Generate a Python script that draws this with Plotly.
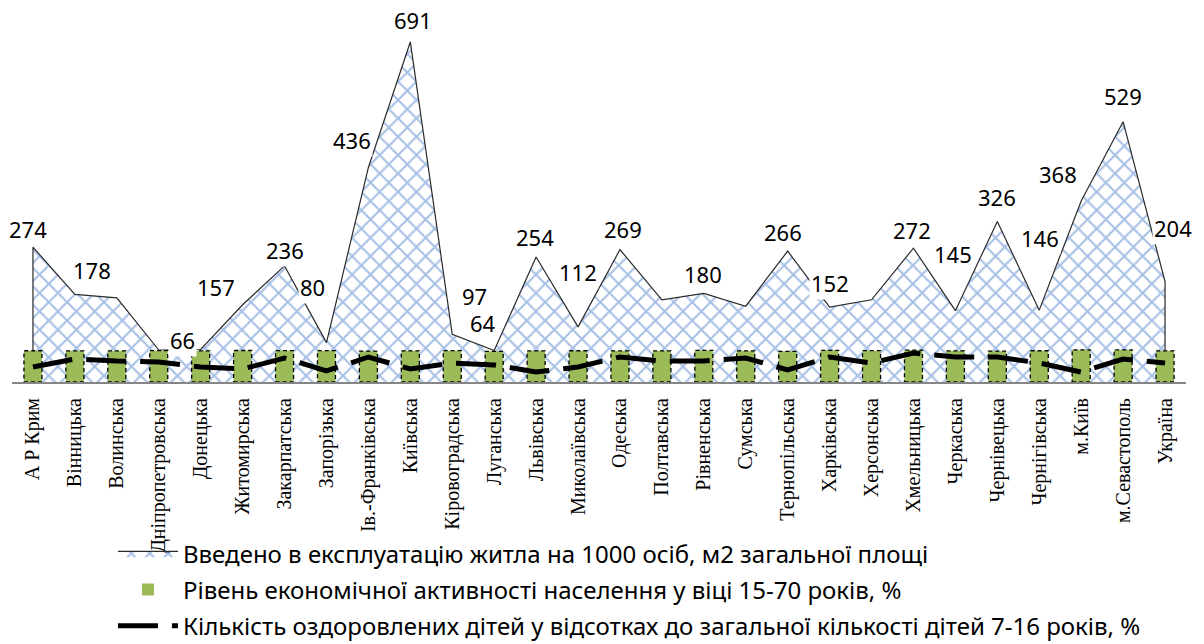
import plotly.graph_objects as go

regions = ["А Р Крим", "Вінницька", "Волинська", "Дніпропетровська", "Донецька",
           "Житомирська", "Закарпатська", "Запорізька", "Ів.-Франківська", "Київська",
           "Кіровоградська", "Луганська", "Львівська", "Миколаївська", "Одеська",
           "Полтавська", "Рівненська", "Сумська", "Тернопільська", "Харківська",
           "Херсонська", "Хмельницька", "Черкаська", "Чернівецька", "Чернігівська",
           "м.Київ", "м.Севастополь", "Україна"]

housing = [274, 178, 171, 65, 66, 157, 236, 80, 436, 691, 97, 64, 254, 112, 269,
           167, 180, 154, 266, 152, 167, 272, 145, 326, 146, 368, 529, 204]

econ_activity = [63.5, 63.4, 63.1, 63.6, 63.2, 64.0, 63.8, 63.6, 62.6, 63.2, 63.6, 62.3,
                 63.1, 63.5, 63.2, 63.3, 64.1, 63.4, 62.3, 64.3, 63.6, 64.8, 63.1, 62.6,
                 63.5, 65.4, 65.2, 63.3]

children = [30.5, 46.7, 42.7, 40.7, 30.5, 26.4, 48.8, 22.4, 50.8, 26.4, 38.6, 34.6,
            20.3, 30.5, 50.8, 42.7, 42.7, 48.8, 24.4, 50.8, 38.6, 58.9, 50.8, 50.8,
            38.6, 20.3, 46.7, 38.6]

# which housing values carry a data label, and label offsets in px (styling)
label_offsets = {0: (-5, 18), 1: (17, 24), 4: (-18, 10), 5: (-27, 18), 6: (0, 16),
                 7: (-14, 56), 8: (-16, 27), 9: (3, 22), 10: (22, 38), 11: (-11, 28),
                 12: (-1, 20), 13: (0, 55), 14: (3, 21), 16: (-1, 19), 18: (-5, 19),
                 19: (0, 24), 21: (-1, 18), 22: (-2, 57), 23: (0, 25), 24: (1, 72),
                 25: (-23, 27), 26: (0, 26), 27: (8, 54)}

names = ["Введено в експлуатацію житла на 1000 осіб, м2 загальної площі",
         "Рівень економічної активності населення у віці 15-70 років, %",
         "Кількість оздоровлених дітей у відсотках до загальної кількості дітей 7-16 років, %"]

idx = list(range(len(regions)))
n = len(regions)
YMAX = 760
BAR_W = 0.43

fig = go.Figure()

# area (closed down to the baseline at both ends so the side edges are outlined)
fig.add_trace(go.Scatter(
    x=[idx[0]] + idx + [idx[-1]], y=[0] + housing + [0],
    mode="lines", fill="toself", name=names[0],
    line=dict(color="#2a2a2a", width=1.2),
    fillcolor="rgba(255,255,255,0)",
    fillpattern=dict(shape="x", fgcolor="#4f82cc", bgcolor="rgba(255,255,255,0)",
                     size=13, solidity=0.3),
    xaxis="x", yaxis="y", legendgroup="a", hoverinfo="skip"))

fig.add_trace(go.Bar(
    x=idx, y=econ_activity, width=BAR_W, name=names[1],
    marker=dict(color="#9bbb59", line=dict(width=0)),
    xaxis="x2", yaxis="y2", legendgroup="b"))

fig.add_trace(go.Scatter(
    x=idx, y=children, mode="lines", name=names[2],
    line=dict(color="black", width=5, dash="40px,14px"),
    xaxis="x2", yaxis="y2", legendgroup="c"))

# dashed outlines of the bars (derived from data)
shapes = []
for i, v in zip(idx, econ_activity):
    shapes.append(dict(type="rect", xref="x2", yref="y2", x0=i - BAR_W / 2, x1=i + BAR_W / 2,
                       y0=0, y1=v, line=dict(color="black", width=1.3, dash="4px,3px"),
                       fillcolor="rgba(0,0,0,0)", layer="above"))

annotations = []
for i, (dx, dy) in label_offsets.items():
    annotations.append(dict(x=i, y=housing[i], xref="x", yref="y", text=str(housing[i]),
                            showarrow=False, xshift=dx, yshift=dy, bgcolor="white",
                            font=dict(family="Noto Sans", size=22, color="black"),
                            borderpad=1))

axis_common = dict(range=[-0.5, n - 0.5], showgrid=False, zeroline=False, automargin=False)
fig.update_layout(
    width=1204, height=644,
    margin=dict(l=12, r=18, t=8, b=262, autoexpand=False),
    plot_bgcolor="white", paper_bgcolor="white",
    barmode="overlay",
    xaxis=dict(**axis_common, tickmode="array", tickvals=idx, ticktext=regions,
               tickangle=-90, showline=True, linecolor="#868686", linewidth=2,
               ticks="", ticklabelstandoff=6,
               tickfont=dict(family="Liberation Serif", size=20, color="black")),
    yaxis=dict(range=[0, YMAX], visible=False, showgrid=False, zeroline=False,
               automargin=False),
    xaxis2=dict(**axis_common, overlaying="x", visible=False),
    yaxis2=dict(range=[0, YMAX], overlaying="y", visible=False, showgrid=False,
                zeroline=False, automargin=False),
    shapes=shapes,
    annotations=annotations,
    showlegend=True,
    legend=dict(x=0.086, xanchor="left", y=-0.399, yanchor="top", orientation="v",
                font=dict(family="Noto Sans", size=24, color="black"),
                tracegroupgap=2, itemwidth=60, bgcolor="rgba(0,0,0,0)"),
)

fig.write_html("out.html", post_script="document.body.style.margin='0px';",
               config={"displayModeBar": False})
